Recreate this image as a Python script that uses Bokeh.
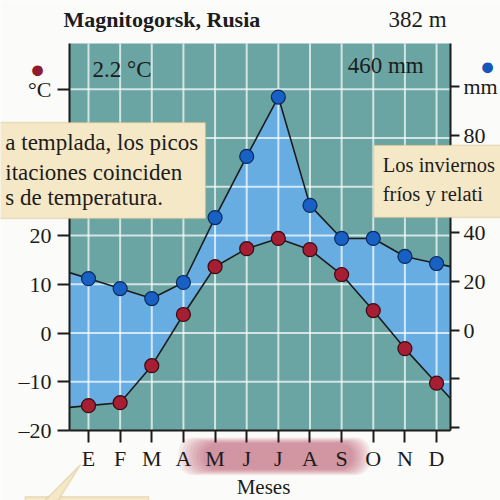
from bokeh.plotting import figure
from bokeh.models import (Range1d, LinearAxis, FixedTicker, Label, BoxAnnotation,
                          PolyAnnotation)
from bokeh.embed import file_html
from bokeh.resources import INLINE

# ---- data ----
months = ["E", "F", "M", "A", "M", "J", "J", "A", "S", "O", "N", "D"]
temp = [-14.9, -14.3, -6.7, 3.8, 13.6, 17.3, 19.4, 17.1, 12.0, 4.6, -3.2, -10.3]
precip = [21.2, 17.1, 13.0, 19.6, 46.3, 71.4, 95.8, 51.3, 37.7, 37.7, 30.3, 27.4]
temp_ticks = [-20, -10, 0, 10, 20, 30, 40, 50]
precip_ticks = [-40, -20, 0, 20, 40, 60, 80, 100]
title_text = "Magnitogorsk, Rusia"
altitude_text = "382 m"
mean_temp_text = "2.2 °C"
total_precip_text = "460 mm"
left_note = ["a templada, los picos", "itaciones coinciden", "s de temperatura."]
right_note = ["Los inviernos", "fríos y relati"]
x_title = "Meses"

SERIF = "Liberation Serif"
BG = "#6aa4a3"
FILL = "#68ade2"
INK = "#1c1c1c"
PAPER = "#fbfbf9"
NOTE = "#f5e8c6"
NOTE_EDGE = "#c4ab72"

# plot-area extents (data units) and canvas ranges
X0, X1 = -0.6, 11.44          # months axis
T0, T1 = -20.0, 59.4          # temperature axis
P0, P1 = -41.2, 117.8         # precipitation axis
CX0, CX1 = -2.781, 13.021
CT0, CT1 = -34.36, 68.21
CP0, CP1 = -70.0, 135.5

p = figure(width=500, height=500, output_backend="svg", toolbar_location=None,
           x_range=Range1d(CX0, CX1), y_range=Range1d(CT0, CT1),
           min_border_left=0, min_border_right=0, min_border_top=0,
           min_border_bottom=0)
p.title.visible = False
p.extra_y_ranges = {"precip": Range1d(CP0, CP1)}
p.background_fill_color = PAPER
p.border_fill_color = PAPER
p.outline_line_color = None
p.xgrid.visible = False
p.ygrid.visible = False

# plot area background
p.add_layout(BoxAnnotation(left=X0, right=X1, bottom=T0, top=T1, fill_color=BG,
                           fill_alpha=1, line_color=None, level="underlay"))

# series, extended to the plot-area edges by extrapolating the end segments
n = len(months)
xs = list(range(n))
def extend(vals):
    left = vals[0] + (vals[0] - vals[1]) * (xs[0] - X0)
    right = vals[-1] + (vals[-1] - vals[-2]) * (X1 - xs[-1])
    return [left] + list(vals) + [right]
xe = [X0] + xs + [X1]
te = extend(temp)
pe = extend(precip)
scale = (CT1 - CT0) / (CP1 - CP0)
pe_t = [CT0 + (v - CP0) * scale for v in pe]

p.varea(x=xe, y1=te, y2=pe_t, fill_color=FILL, fill_alpha=1.0)

# grid lines inside the plot area
p.segment(x0=xs, x1=xs, y0=[T0] * n, y1=[T1] * n, line_color="white",
          line_alpha=0.7, line_width=2)
gt = [t for t in temp_ticks if T0 < t < T1]
p.segment(x0=[X0] * len(gt), x1=[X1] * len(gt), y0=gt, y1=gt, line_color="white",
          line_alpha=0.7, line_width=2)

# lines and points
p.line(xe, te, line_color=INK, line_width=1.6)
p.line(xe, pe, line_color=INK, line_width=1.6, y_range_name="precip")
p.scatter(xs, temp, size=14, fill_color="#a51e32", line_color="#3a0a12",
          line_width=1.2)
p.scatter(xs, precip, size=14, fill_color="#1860c4", line_color="#0b2a5a",
          line_width=1.2, y_range_name="precip")

# month highlight (soft pink glow behind M J J A S)
layers = 8
for k in range(layers):
    d = 0.11 * (layers - 1 - k)
    p.add_layout(BoxAnnotation(left=3.62 - d, right=8.36 + d * 0.7,
                               top=-22.6 + d * 1.5, bottom=-28.0 - d * 1.5,
                               fill_color="#b0405a", fill_alpha=0.09, line_color=None,
                               border_radius=14, level="underlay"))

# axes
def style_axis(ax, size):
    ax.axis_line_color = INK
    ax.axis_line_width = 2
    ax.major_tick_line_color = INK
    ax.major_tick_line_width = 2
    ax.minor_tick_line_color = None
    ax.major_tick_in = 0
    ax.major_label_text_font = SERIF
    ax.major_label_text_font_size = size
    ax.major_label_text_color = INK

xa = p.xaxis[0]
style_axis(xa, "22px")
xa.fixed_location = T0
xa.bounds = (X0, X1)
xa.ticker = FixedTicker(ticks=xs)
xa.major_label_overrides = {i: m for i, m in enumerate(months)}
xa.major_tick_out = 12
xa.major_label_standoff = 4

ya = p.yaxis[0]
style_axis(ya, "22px")
ya.fixed_location = X0
ya.bounds = (T0, T1)
ya.ticker = FixedTicker(ticks=temp_ticks)
ya.major_label_overrides = {t: (("–" + str(-t)) if t < 0 else str(t)) for t in temp_ticks}
ya.major_label_overrides[temp_ticks[-1]] = "°C"
ya.major_tick_out = 12
ya.major_label_standoff = 6

ra = LinearAxis(y_range_name="precip")
style_axis(ra, "22px")
ra.fixed_location = X1
ra.bounds = (P0, P1)
ra.ticker = FixedTicker(ticks=precip_ticks)
ra.major_label_overrides = {t: (str(t) if t >= 0 else "") for t in precip_ticks}
ra.major_label_overrides[precip_ticks[-1]] = "mm"
ra.major_tick_out = 9
ra.major_label_standoff = 4
p.add_layout(ra, "right")

# texts
def lab(x, y, t, size="21px", style="normal", color=INK, align="left"):
    L = Label(x=x, y=y, text=t, text_font=SERIF, text_font_size=size,
              text_font_style=style, text_color=color, text_align=align,
              text_baseline="middle")
    p.add_layout(L)
    return L

lab(-0.79, 64.4, title_text, size="22px", style="bold")
lab(9.48, 64.4, altitude_text, size="23px")
lab(0.13, 54.0, mean_temp_text, size="23px")
lab(8.19, 54.8, total_precip_text, size="23px")
lab(5.53, -31.5, x_title, size="21px", align="center")
lab(-1.61, 54.0, "●", size="25px", color="#8e1b2f", align="center")
lab(12.61, 54.7, "●", size="25px", color="#1556b8", align="center")

# note boxes
p.add_layout(BoxAnnotation(left=-3.2, right=3.70, top=43.2, bottom=23.5,
                           fill_color=NOTE, fill_alpha=1, line_color=NOTE_EDGE,
                           line_width=1.5))
p.add_layout(BoxAnnotation(left=9.01, right=13.5, top=38.5, bottom=23.7,
                           fill_color=NOTE, fill_alpha=1, line_color=NOTE_EDGE,
                           line_width=1.5))
for t, yv in zip(left_note, [39.1, 33.0, 27.7]):
    lab(-2.63, yv, t, size="23px")
for t, yv in zip(right_note, [34.4, 28.5]):
    lab(9.30, yv, t, size="20.5px")

# callout pointer + bottom note box edge
p.add_layout(BoxAnnotation(left=-2.0, right=1.9, top=-33.6, bottom=-36.0,
                           fill_color=NOTE, fill_alpha=1, line_color=NOTE_EDGE,
                           line_width=1.5))
p.add_layout(PolyAnnotation(xs=[-0.25, -1.42, -0.98], ys=[-27.0, -34.6, -34.6],
                            fill_color=NOTE, fill_alpha=1, line_color=NOTE_EDGE,
                            line_width=1.5))

open("out.html", "w").write(file_html(p, INLINE))
